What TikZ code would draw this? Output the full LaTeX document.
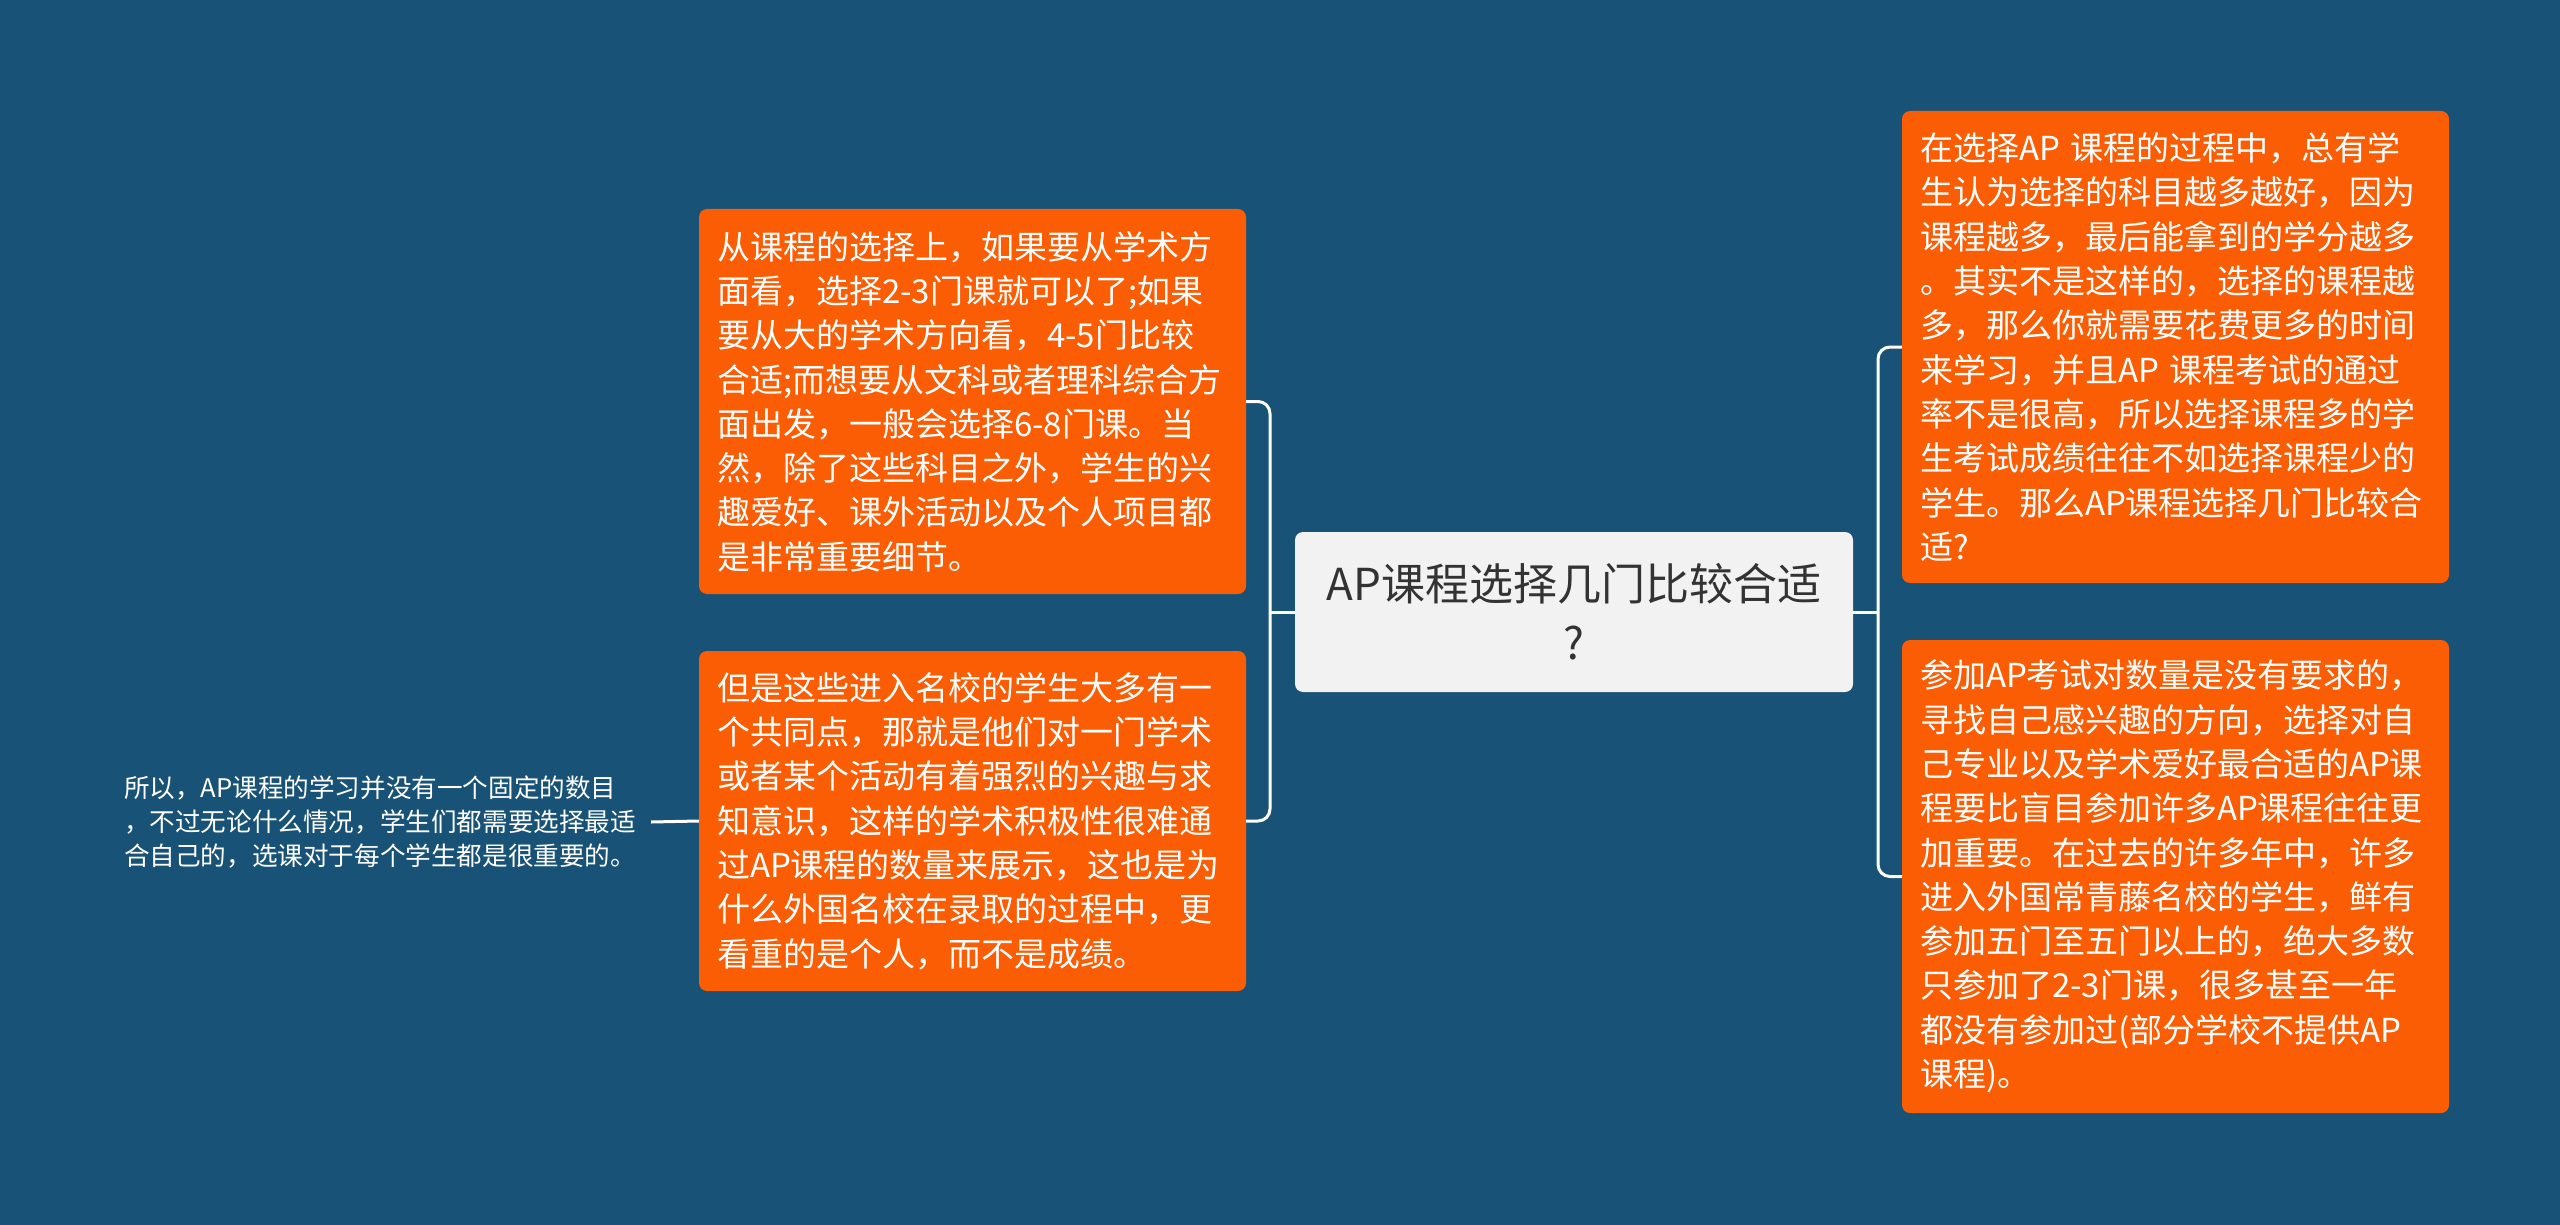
\documentclass[tikz,border=0pt]{standalone}
\usepackage{fontspec}
\setmainfont{Noto Sans CJK SC}
\definecolor{bg}{RGB}{24,82,118}
\definecolor{org}{RGB}{250,93,4}
\definecolor{cbox}{RGB}{242,242,242}
\definecolor{ctext}{RGB}{51,51,51}
\begin{document}
\begin{tikzpicture}[x=1pt,y=-1pt,
  leaf/.style={fill=org, rounded corners=8pt, text=white, inner xsep=18pt, inner ysep=0pt,
    text width=511pt, align=left, minimum width=547pt,
    font=\fontsize{33}{44.3}\selectfont},
  root/.style={fill=cbox, rounded corners=8pt, text=ctext, inner sep=0pt, align=center,
    minimum width=558pt, minimum height=160pt, font=\fontsize{44}{59}\selectfont},
  plain/.style={text=white, inner xsep=15pt, inner ysep=0pt, align=left,
    font=\fontsize{25.6}{34}\selectfont},
  conn/.style={draw=white, line width=3pt, rounded corners=12pt}]
\fill[bg] (0,0) rectangle (2560,1225);
\useasboundingbox (0,0) rectangle (2560,1225);

\node[root] (c) at (1574,612) {AP课程选择几门比较合适\\?};

\node[leaf, minimum height=385pt] (lt) at (972.5,401.5) {从课程的选择上，如果要从学术方\\面看，选择2-3门课就可以了;如果\\要从大的学术方向看，4-5门比较\\合适;而想要从文科或者理科综合方\\面出发，一般会选择6-8门课。当\\然，除了这些科目之外，学生的兴\\趣爱好、课外活动以及个人项目都\\是非常重要细节。};

\node[leaf, minimum height=340pt] (lb) at (972.5,821) {但是这些进入名校的学生大多有一\\个共同点，那就是他们对一门学术\\或者某个活动有着强烈的兴趣与求\\知意识，这样的学术积极性很难通\\过AP课程的数量来展示，这也是为\\什么外国名校在录取的过程中，更\\看重的是个人，而不是成绩。};

\node[leaf, minimum height=472pt] (rt) at (2175.5,347) {在选择AP 课程的过程中，总有学\\生认为选择的科目越多越好，因为\\课程越多，最后能拿到的学分越多\\。其实不是这样的，选择的课程越\\多，那么你就需要花费更多的时间\\来学习，并且AP 课程考试的通过\\率不是很高，所以选择课程多的学\\生考试成绩往往不如选择课程少的\\学生。那么AP课程选择几门比较合\\适?};

\node[leaf, minimum height=473pt] (rb) at (2175.5,876.5) {参加AP考试对数量是没有要求的，\\寻找自己感兴趣的方向，选择对自\\己专业以及学术爱好最合适的AP课\\程要比盲目参加许多AP课程往往更\\加重要。在过去的许多年中，许多\\进入外国常青藤名校的学生，鲜有\\参加五门至五门以上的，绝大多数\\只参加了2-3门课，很多甚至一年\\都没有参加过(部分学校不提供AP\\课程)。};

\node[plain] (lm) at (380,822) {所以，AP课程的学习并没有一个固定的数目\\，不过无论什么情况，学生们都需要选择最适\\合自己的，选课对于每个学生都是很重要的。};

\coordinate (jl) at (1270,612);
\coordinate (jr) at (1878,612);

\draw[conn] (c.west) -- (jl);
\draw[conn] (lt.east) -| (jl);
\draw[conn] (lb.east) -| (jl);
\draw[conn] (c.east) -- (jr);
\draw[conn] (rt.west) -| (jr);
\draw[conn] (rb.west) -| (jr);
\draw[conn] (lb.west) -- (lm.east);
\end{tikzpicture}
\end{document}
